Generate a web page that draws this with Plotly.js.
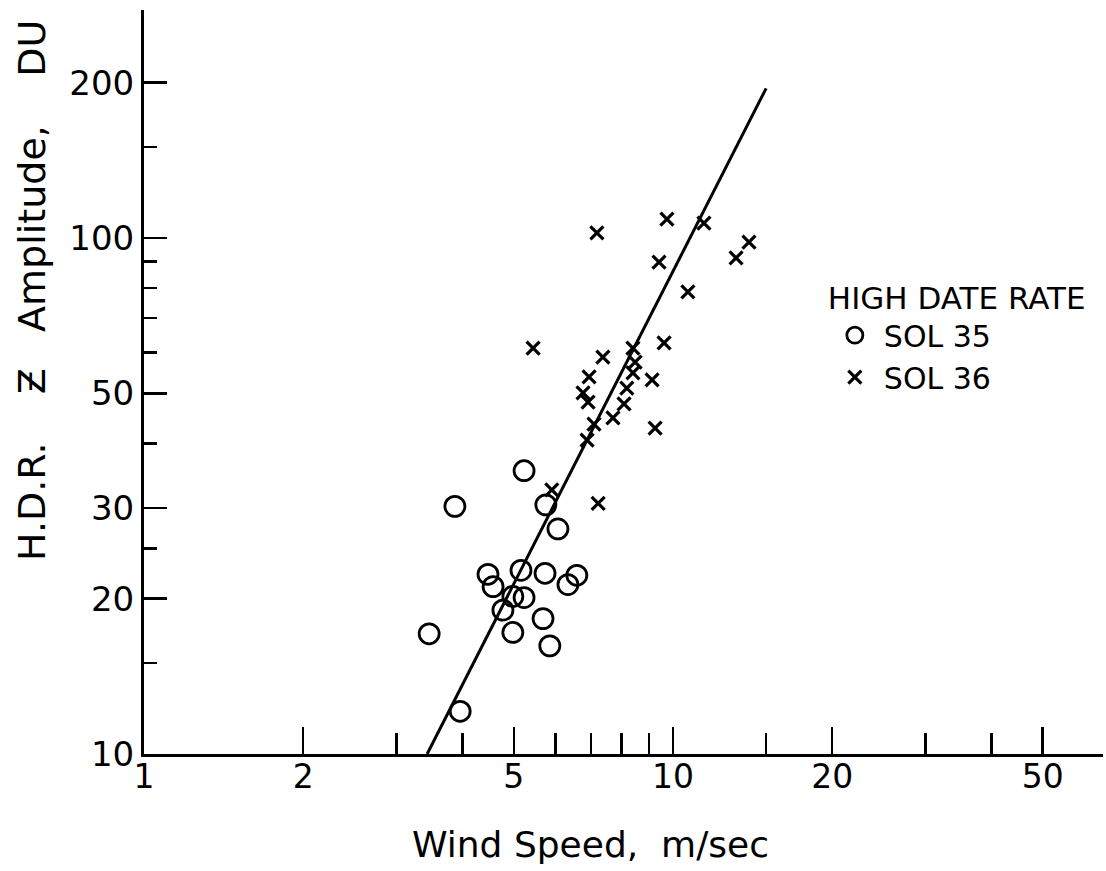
<!DOCTYPE html>
<html>
<head>
<meta charset="utf-8">
<script src="https://cdn.plot.ly/plotly-3.0.1.min.js"></script>
<style>
  html, body { margin: 0; padding: 0; background: #ffffff; }
  #chart { width: 1106px; height: 871px; }
</style>
</head>
<body>
<div id="chart"></div>
<script>
// ---- Data (log-log plot) ----
const sol35X = [5.23, 3.87, 5.75, 6.06, 4.47, 4.57, 5.16, 5.73, 6.58, 6.33, 4.98, 5.23, 4.77, 3.46, 4.98, 5.68, 5.85, 3.96];
const sol35Y = [35.4, 30.2, 30.4, 27.3, 22.3, 21.1, 22.7, 22.4, 22.2, 21.3, 20.2, 20.1, 19.0, 17.1, 17.2, 18.3, 16.2, 12.1];

const sol36X = [9.74, 11.44, 7.18, 13.92, 13.16, 9.41, 10.67, 5.44, 9.62, 8.40, 7.37, 8.48, 6.94, 8.40, 9.13, 6.76, 6.91, 8.18, 8.08, 7.70, 7.09, 9.25, 6.88, 5.90, 7.22];
const sol36Y = [108.8, 106.9, 102.3, 98.2, 91.5, 89.8, 78.6, 61.2, 62.6, 61.2, 58.8, 57.5, 53.8, 54.8, 53.1, 50.1, 48.1, 51.2, 47.7, 44.8, 43.6, 42.8, 40.6, 32.5, 30.6];

const fitX = [3.43, 15.0];
const fitY = [10, 195];

const xTickVals = [1, 2, 5, 10, 20, 50];
const xTickText = ['1', '2', '5', '10', '20', '50'];
const xMinorVals = [3, 4, 6, 7, 8, 9, 15, 30, 40];

const yTickVals = [10, 20, 30, 50, 100, 200];
const yTickText = ['10', '20', '30', '50', '100', '200'];
const yMinorVals = [15, 25, 40, 60, 70, 80, 90, 150];

const legendTitle = 'HIGH DATE RATE';
const name35 = 'SOL 35';
const name36 = 'SOL 36';
const xTitle = 'Wind Speed,\u00A0 m/sec';
const NB = '\u00A0';
const yTitle = 'H.D.R.' + NB.repeat(4) + '\u01B5' + NB.repeat(3) + 'Amplitude,' + NB.repeat(4) + 'DU';

const FONT = 'DejaVu Sans, Liberation Sans, sans-serif';

const traces = [
  {
    x: fitX, y: fitY, type: 'scatter', mode: 'lines',
    line: { color: '#000', width: 3 },
    showlegend: false, hoverinfo: 'skip'
  },
  {
    x: sol35X, y: sol35Y, type: 'scatter', mode: 'markers', name: name35,
    marker: { symbol: 'circle-open', size: 20, color: '#000', line: { color: '#000', width: 2.8 } }
  },
  {
    x: sol36X, y: sol36Y, type: 'scatter', mode: 'markers', name: name36,
    marker: { symbol: 'x-thin-open', size: 13, color: '#000', line: { color: '#000', width: 3.2 } }
  }
];

const layout = {
  width: 1106, height: 871,
  margin: { l: 144, r: 3, t: 10, b: 117, pad: 0 },
  paper_bgcolor: '#ffffff', plot_bgcolor: '#ffffff',
  font: { family: FONT, color: '#000', size: 32 },
  showlegend: true,
  legend: {
    x: 0.711, y: 0.652, xanchor: 'left', yanchor: 'top',
    bgcolor: 'rgba(0,0,0,0)', borderwidth: 0,
    font: { family: FONT, size: 30, color: '#000' },
    title: { text: legendTitle, font: { family: FONT, size: 31, color: '#000' } },
    itemwidth: 48,
    tracegroupgap: 0
  },
  xaxis: {
    type: 'log', range: [0, 1.8129], autorange: false,
    showgrid: false, zeroline: false,
    showline: true, linecolor: '#000', linewidth: 3, mirror: false,
    tickmode: 'array', tickvals: xTickVals, ticktext: xTickText,
    ticks: 'inside', ticklen: 27, tickwidth: 2.5, tickcolor: '#000',
    ticklabelstandoff: -9,
    tickfont: { family: FONT, size: 33, color: '#000' },
    minor: { tickmode: 'array', tickvals: xMinorVals, ticks: 'inside', ticklen: 21, tickwidth: 2.5, tickcolor: '#000', showgrid: false }
  },
  yaxis: {
    type: 'log', range: [1, 2.4419], autorange: false,
    showgrid: false, zeroline: false,
    showline: true, linecolor: '#000', linewidth: 3, mirror: false,
    tickmode: 'array', tickvals: yTickVals, ticktext: yTickText,
    ticks: 'inside', ticklen: 23, tickwidth: 2.5, tickcolor: '#000',
    tickfont: { family: FONT, size: 34, color: '#000' },
    minor: { tickmode: 'array', tickvals: yMinorVals, ticks: 'inside', ticklen: 13, tickwidth: 2.5, tickcolor: '#000', showgrid: false }
  },
  annotations: [
    {
      text: xTitle, xref: 'paper', yref: 'paper', x: 0.466, y: -0.1223,
      xanchor: 'center', yanchor: 'middle', showarrow: false,
      font: { family: FONT, size: 36, color: '#000' }
    },
    {
      text: yTitle, xref: 'paper', yref: 'paper', x: -0.1168, y: 0.6237,
      xanchor: 'center', yanchor: 'middle', showarrow: false, textangle: -90,
      font: { family: FONT, size: 38, color: '#000' }
    }
  ]
};

Plotly.newPlot('chart', traces, layout, { displayModeBar: false, staticPlot: true });
</script>
</body>
</html>
